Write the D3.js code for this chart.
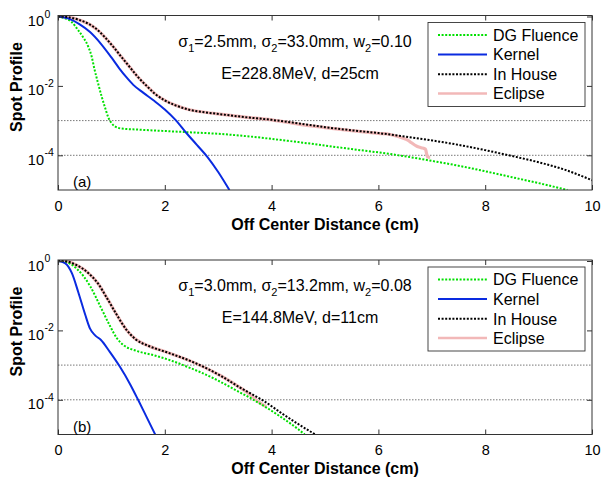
<!DOCTYPE html>
<html>
<head>
<meta charset="utf-8">
<script src="https://cdn.jsdelivr.net/npm/d3@7/dist/d3.min.js"></script>
<style>
body{margin:0;background:#fff;}
text{font-family:"Liberation Sans",Arial,sans-serif;fill:#000;}
</style>
</head>
<body>
<svg width="602" height="479"></svg>
<script>
// points are [off center distance (cm), spot profile]
var xTicks = [0, 2, 4, 6, 8, 10];
var yTickExps = [0, -2, -4];
var refLevels = [1e-3, 1e-4];
var seriesNames = ['DG Fluence', 'Kernel', 'In House', 'Eclipse'];
var panelTags = ['(a)', '(b)'];

// panel (a): E=228.8MeV, d=25cm
var fluenceA = [[0,1],[0.13,0.891],[0.25,0.708],[0.38,0.398],[0.48,0.240],[0.57,0.132],[0.63,0.0708],
	[0.68,0.0316],[0.75,0.0120],[0.82,0.00479],[0.88,0.00240],[0.94,0.00126],[1.0,8.51e-4],[1.06,6.92e-4],
	[1.19,5.89e-4],[1.5,5.50e-4],[2.0,5.01e-4],[2.5,4.57e-4],[3.0,4.17e-4],[3.6,3.47e-4],[4.5,2.40e-4],
	[5.5,1.51e-4],[6.2,1.10e-4],[7.0,6.92e-5],[7.5,5.01e-5],[8.0,3.47e-5],[8.5,2.34e-5],[9.0,1.58e-5],[9.54,1e-5]];
var kernelA = [[0,1],[0.2,0.871],[0.4,0.603],[0.6,0.355],[0.8,0.166],[1.0,0.0661],[1.15,0.0316],[1.28,0.0178],
	[1.41,0.0107],[1.6,0.00631],[1.8,0.00372],[2.0,0.00209],[2.2,0.00105],[2.4,4.47e-4],[2.6,2.0e-4],
	[2.8,8.91e-5],[3.0,3.31e-5],[3.21,1e-5]];
var inHouseA = [[0,1],[0.19,0.955],[0.4,0.794],[0.57,0.617],[0.75,0.398],[0.88,0.251],[1.05,0.126],[1.19,0.0676],
	[1.35,0.0339],[1.5,0.0178],[1.66,0.01],[1.82,0.00589],[2.0,0.00380],[2.2,0.00275],[2.44,0.00209],
	[2.75,0.00174],[3.07,0.00151],[3.5,0.00126],[4.0,0.00105],[4.5,8.32e-4],[5.0,6.46e-4],[5.5,5.25e-4],
	[6.0,4.37e-4],[6.5,3.47e-4],[7.0,2.69e-4],[7.5,2.0e-4],[8.0,1.41e-4],[8.5,9.55e-5],[9.0,6.31e-5],
	[9.5,3.80e-5],[10,1.91e-5]];
var eclipseA = [[0,1],[0.19,0.955],[0.4,0.794],[0.57,0.617],[0.75,0.398],[0.88,0.251],[1.05,0.126],[1.19,0.0676],
	[1.35,0.0339],[1.5,0.0178],[1.66,0.01],[1.82,0.00589],[2.0,0.00380],[2.2,0.00275],[2.44,0.00209],
	[2.75,0.00174],[3.07,0.00151],[3.5,0.00126],[4.0,0.00105],[4.5,7.94e-4],[5.0,6.31e-4],[5.5,5.13e-4],
	[6.0,4.27e-4],[6.22,3.98e-4],[6.35,3.55e-4],[6.45,3.16e-4],[6.55,2.75e-4],[6.62,2.29e-4],[6.72,1.82e-4],
	[6.8,1.66e-4],[6.88,1.51e-4],[6.92,8.91e-5],[6.97,8.71e-5]];

// panel (b): E=144.8MeV, d=11cm
var fluenceB = [[0,1],[0.15,0.933],[0.35,0.603],[0.6,0.191],[0.79,0.0501],[0.97,0.0138],[1.1,0.00603],
	[1.25,0.00355],[1.45,0.00263],[1.8,0.00191],[2.1,0.00138],[2.44,8.71e-4],[2.94,3.98e-4],[3.3,2.0e-4],
	[3.66,1.0e-4],[4.16,3.31e-5],[4.5,1.41e-5],[4.62,1e-5]];
var kernelB = [[0,1],[0.13,0.871],[0.26,0.447],[0.38,0.126],[0.51,0.0282],[0.6,0.0112],[0.7,0.00708],
	[0.8,0.00537],[0.97,0.00240],[1.16,8.91e-4],[1.35,2.82e-4],[1.5,1e-4],[1.66,3.16e-5],[1.82,1e-5]];
var inHouseB = [[0,1],[0.15,0.977],[0.35,0.759],[0.57,0.447],[0.75,0.224],[0.91,0.0891],[1.1,0.0282],
	[1.28,0.0105],[1.45,0.00562],[1.7,0.00355],[2.04,0.00234],[2.54,0.00120],[3.04,5.01e-4],[3.41,2.24e-4],
	[3.85,9.33e-5],[4.2,3.98e-5],[4.54,1.82e-5],[4.82,1e-5]];
var eclipseB = [[0,1],[0.15,0.977],[0.35,0.759],[0.57,0.447],[0.75,0.224],[0.91,0.0891],[1.1,0.0282],
	[1.28,0.0105],[1.45,0.00562],[1.7,0.00355],[2.04,0.00234],[2.54,0.00120],[3.04,5.01e-4],[3.41,2.24e-4],
	[3.6,1.41e-4],[3.75,8.91e-5],[3.9,6.31e-5]];

var paramsA = ['2.5', '33.0', '0.10', '228.8', '25'];
var paramsB = ['3.0', '13.2', '0.08', '144.8', '11'];

var svg = d3.select('svg');
var left = 58, right = 592;

var styles = [
	{color: '#00e000', width: 2, dash: '2,1.6'},
	{color: '#0a2be0', width: 2, dash: null},
	{color: '#000', width: 2, dash: '2,1.6'},
	{color: '#f2b8b8', width: 3.2, dash: null}
];

function drawPanel(top, bottom, series, params, tag, id){
	var x = d3.scaleLinear().domain([0, 10]).range([left, right]);
	var y = d3.scaleLog().domain([1e-5, 1]).range([bottom, top + 1]);
	var g = svg.append('g');

	g.append('clipPath').attr('id', 'clip' + id)
		.append('rect').attr('x', left).attr('y', top).attr('width', right - left).attr('height', bottom - top);

	// reference levels
	g.selectAll('.ref').data(refLevels).enter().append('line')
		.attr('x1', left).attr('x2', right)
		.attr('y1', d => y(d)).attr('y2', d => y(d))
		.style('stroke', '#555').style('stroke-width', 0.8).style('stroke-dasharray', '1.5,1.5');

	var line = d3.line().x(d => x(d[0])).y(d => y(d[1])).curve(d3.curveMonotoneX);
	// eclipse goes under the others
	var order = [3, 0, 1, 2];
	var curves = g.append('g').attr('clip-path', 'url(#clip' + id + ')');
	for(let i of order){
		curves.append('path').attr('d', line(series[i]))
			.style('fill', 'none').style('stroke', styles[i].color)
			.style('stroke-width', styles[i].width)
			.style('stroke-dasharray', styles[i].dash);
	}

	// ticks pointing inward on all four sides
	var xb = g.append('g').attr('transform', 'translate(0,' + bottom + ')')
		.call(d3.axisBottom(x).tickValues(xTicks).tickSize(-5).tickPadding(10.5).tickFormat(d3.format('d')));
	var xt = g.append('g').attr('transform', 'translate(0,' + top + ')')
		.call(d3.axisTop(x).tickValues(xTicks).tickSize(-5).tickFormat(''));
	var yl = g.append('g').attr('transform', 'translate(' + left + ',0)')
		.call(d3.axisLeft(y).tickValues(yTickExps.map(e => Math.pow(10, e))).tickSize(-5).tickFormat(''));
	var yr = g.append('g').attr('transform', 'translate(' + right + ',0)')
		.call(d3.axisRight(y).tickValues(yTickExps.map(e => Math.pow(10, e))).tickSize(-5).tickFormat(''));
	for(let a of [xb, xt, yl, yr]){
		a.select('.domain').remove();
		a.selectAll('line').style('stroke', '#333');
	}
	xb.selectAll('text').style('font-size', '14.5px').style('font-family', '"Liberation Sans",Arial,sans-serif');

	// y tick labels as 10^n
	for(let e of yTickExps){
		var yy = y(Math.pow(10, e));
		g.append('text').attr('x', 44).attr('y', yy + 9.5).attr('text-anchor', 'end')
			.style('font-size', '14.5px').text('10');
		g.append('text').attr('x', 44.5).attr('y', yy + 1)
			.style('font-size', '10.5px').text(e === 0 ? '0' : '-' + (-e));
	}

	g.append('rect').attr('x', left).attr('y', top).attr('width', right - left).attr('height', bottom - top)
		.style('fill', 'none').style('stroke', '#333').style('stroke-width', 1);

	// parameters
	var t1 = g.append('text').attr('x', 295).attr('y', top + 31).attr('text-anchor', 'middle').style('font-size', '16px');
	t1.append('tspan').text('\u03c3');
	t1.append('tspan').attr('dy', 5).style('font-size', '11px').text('1');
	t1.append('tspan').attr('dy', -5).text('=' + params[0] + 'mm, \u03c3');
	t1.append('tspan').attr('dy', 5).style('font-size', '11px').text('2');
	t1.append('tspan').attr('dy', -5).text('=' + params[1] + 'mm, w');
	t1.append('tspan').attr('dy', 5).style('font-size', '11px').text('2');
	t1.append('tspan').attr('dy', -5).text('=' + params[2]);
	g.append('text').attr('x', 300).attr('y', top + 63).attr('text-anchor', 'middle').style('font-size', '16px')
		.text('E=' + params[3] + 'MeV, d=' + params[4] + 'cm');

	g.append('text').attr('x', 73).attr('y', bottom - 3).style('font-size', '15px').text(tag);

	// legend
	var lg = g.append('g').attr('transform', 'translate(428,' + (top + 7) + ')');
	lg.append('rect').attr('width', 157).attr('height', 84)
		.style('fill', '#fff').style('stroke', '#333').style('stroke-width', 0.9);
	var rows = [12.5, 32, 51.8, 71];
	seriesNames.forEach(function(name, i){
		lg.append('line').attr('x1', 10).attr('x2', 59).attr('y1', rows[i]).attr('y2', rows[i])
			.style('stroke', styles[i].color).style('stroke-width', i === 3 ? 2.5 : styles[i].width)
			.style('stroke-dasharray', styles[i].dash);
		lg.append('text').attr('x', 65).attr('y', rows[i]).attr('dy', '0.36em')
			.style('font-size', '16px').text(name);
	});

	// axis labels
	g.append('text').attr('transform', 'translate(21.5,' + (top + 71.5) + ') rotate(-90)')
		.attr('text-anchor', 'middle').style('font-size', '16px').style('font-weight', 'bold').text('Spot Profile');
	g.append('text').attr('x', (left + right) / 2).attr('y', bottom + 39.5)
		.attr('text-anchor', 'middle').style('font-size', '16px').style('font-weight', 'bold')
		.text('Off Center Distance (cm)');
}

drawPanel(15.5, 190, [fluenceA, kernelA, inHouseA, eclipseA], paramsA, panelTags[0], 'a');
drawPanel(260, 434.5, [fluenceB, kernelB, inHouseB, eclipseB], paramsB, panelTags[1], 'b');
</script>
</body>
</html>
